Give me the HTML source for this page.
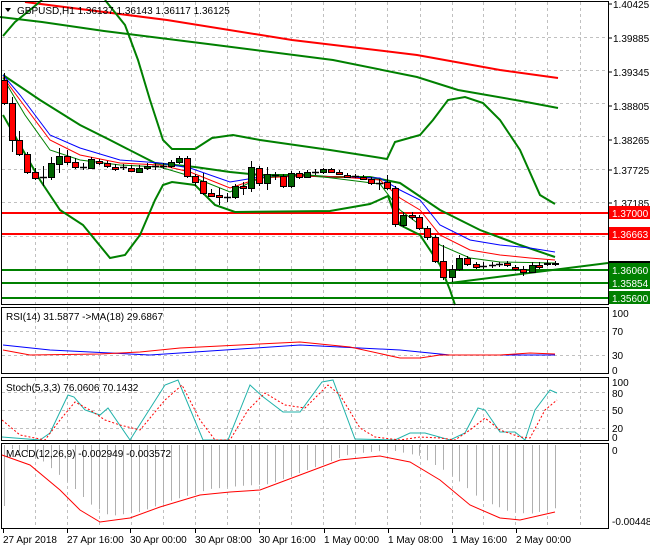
<!DOCTYPE html>
<html><head><meta charset="utf-8"><style>
html,body{margin:0;padding:0;background:#fff}
svg{display:block;font-family:"Liberation Sans",sans-serif;font-size:10px}
</style></head><body>
<svg id="s" width="650" height="550" viewBox="0 0 650 550" xmlns="http://www.w3.org/2000/svg">
<rect width="650" height="550" fill="#fff"/>
<g id="grid" stroke="#c0c0c0" stroke-dasharray="3,3" stroke-width="1"></g>
<g id="ind"></g>
<g id="cand"></g>
<g id="frame" fill="none" stroke="#000" stroke-width="1">
<rect x="1.5" y="1.5" width="607" height="303"/>
<rect x="1.5" y="307.5" width="607" height="66"/>
<rect x="1.5" y="377.5" width="607" height="63"/>
<rect x="1.5" y="443.5" width="607" height="85"/>
</g>
<g id="lab"></g>
</svg>
<script>
var NS="http://www.w3.org/2000/svg";
function el(p,t,a,txt){var e=document.createElementNS(NS,t);for(var k in a)e.setAttribute(k,a[k]);if(txt!==undefined)e.textContent=txt;document.getElementById(p).appendChild(e);return e;}
function pl(p,pts,c,w,extra){var a={points:pts.map(function(q){return q.join(',')}).join(' '),fill:'none',stroke:c,'stroke-width':w};for(var k in extra)a[k]=extra[k];el(p,'polyline',a);}
var gx=[35,67,99,131,163,195,227,259,291,323,355,387,420,452,483,515,547,580];
[[2,304],[308,373],[378,440],[444,528]].forEach(function(r){gx.forEach(function(x){el('grid','line',{x1:x+.5,y1:r[0],x2:x+.5,y2:r[1]});});});
[37,70,103,136,169,202,236,269].forEach(function(y){el('grid','line',{x1:2,y1:y+.5,x2:608,y2:y+.5});});
[331,355].forEach(function(y){el('grid','line',{x1:2,y1:y+.5,x2:608,y2:y+.5});});
[392,410,428].forEach(function(y){el('grid','line',{x1:2,y1:y+.5,x2:608,y2:y+.5});});
el('ind','line',{x1:2,y1:213,x2:608,y2:213,stroke:'#f00','stroke-width':2});
el('ind','line',{x1:2,y1:234,x2:608,y2:234,stroke:'#f00','stroke-width':2});
[270,283,298].forEach(function(y){el('ind','line',{x1:2,y1:y,x2:608,y2:y,stroke:'#008000','stroke-width':2});});
el('ind','line',{x1:450,y1:283,x2:608,y2:263,stroke:'#008000','stroke-width':2});
pl('ind',[[25,2],[167,20],[292,40],[417,55],[500,70],[558,78]],'#f00',2);
pl('ind',[[0,17],[42,22],[104,31],[208,44],[333,60],[417,77],[458,90],[521,101],[558,108]],'#008000',2);
pl('ind',[[3,36],[15,22],[30,10],[42,0]],'#008000',2);
pl('ind',[[105,0],[125,25],[138,60],[150,100],[163,140],[172,149],[195,149],[212,138],[233,135],[260,140],[330,150],[375,157],[387,159],[395,142],[420,135],[433,120],[448,100],[465,97],[483,103],[500,120],[520,150],[540,195],[555,204]],'#008000',2);
pl('ind',[[3,75],[40,100],[80,125],[110,140],[155,163],[195,167],[230,172],[260,175],[300,175],[330,177],[370,177],[400,183],[440,210],[480,230],[520,245],[555,257]],'#008000',2);
pl('ind',[[3,115],[20,145],[40,180],[60,210],[83,225],[110,258],[125,255],[140,235],[155,200],[163,185],[172,182],[195,185],[215,205],[235,212],[330,211],[370,204],[388,196],[395,215],[400,225],[420,235],[440,265],[450,290],[455,305]],'#008000',2);
pl('ind',[[3,75],[20,95],[50,135],[80,148],[120,160],[160,163],[190,168],[230,182],[260,177],[300,176],[340,177],[380,178],[400,190],[420,200],[440,225],[470,240],[500,245],[530,248],[555,252]],'#00f',1);
pl('ind',[[3,77],[20,100],[50,140],[80,155],[120,163],[160,165],[190,172],[230,188],[260,178],[300,176],[340,177],[380,180],[400,198],[420,210],[440,235],[470,250],[500,255],[530,258],[555,260]],'#f00',1);
pl('ind',[[3,78],[25,115],[50,150],[80,160],[120,165],[160,167],[190,176],[230,192],[260,178],[300,174],[380,184],[400,210],[420,225],[440,245],[470,258],[500,262],[555,263]],'#008000',1);
var C=[[4,80,103,73,105],[12,103,140,97,152],[19,140,154,131,156],[27,154,172,152,174],[35,172,178,168,180],[43,177,177,166,186],[51,177,163,157,180],[59,164,156,148,173],[67,156,162,150,165],[75,162,167,158,169],[83,167,167,163,170],[91,168,159,157,169],[99,161,163,159,165],[107,163,166,161,168],[115,167,169,164,171],[123,167,167,164,170],[131,168,171,165,172],[139,172,168,165,173],[147,168,166,163,170],[155,166,166,163,170],[163,166,166,163,169],[171,166,162,160,168],[179,162,158,156,164],[187,158,176,156,178],[195,176,182,174,186],[203,181,193,173,195],[211,193,196,189,197],[219,195,197,188,205],[227,197,197,193,202],[235,197,186,184,199],[243,186,188,182,195],[251,188,167,161,192],[259,168,183,166,186],[267,183,174,167,190],[275,175,175,172,180],[283,176,186,174,188],[291,186,173,171,188],[299,173,177,171,179],[307,177,172,170,178],[315,172,172,169,175],[323,172,169,168,174],[331,169,172,168,173],[339,172,174,170,175],[347,175,177,173,178],[355,176,176,174,178],[363,177,179,175,180],[371,179,183,177,185],[379,183,183,179,190],[387,182,188,175,190],[395,188,224,186,227],[403,225,215,212,227],[412,215,217,212,220],[419,217,228,215,230],[427,228,237,226,240],[435,237,261,235,263],[443,261,277,245,280],[452,277,269,265,282],[459,269,258,255,271],[467,258,264,256,266],[476,264,267,262,269],[483,266,266,262,269],[492,265,265,262,268],[499,264,264,262,267],[507,263,265,261,267],[515,267,269,265,271],[523,269,272,266,276],[532,272,265,262,273],[539,265,267,262,269],[547,263,264,260,266],[555,263,264,261,266]];
C.forEach(function(c){var x=c[0],o=c[1],cl=c[2];el('cand','line',{x1:x+.5,y1:c[3],x2:x+.5,y2:c[4],stroke:'#000'});
var top=Math.min(o,cl),h=Math.abs(o-cl);if(h<1){el('cand','line',{x1:x-3,y1:o+.5,x2:x+4,y2:o+.5,stroke:'#000','stroke-width':1.5});}
else el('cand','rect',{x:x-3+.5,y:top+.5,width:6,height:h,fill:(cl>o?'#f00':'#006400'),stroke:'#000'});});
pl('ind',[[3,345],[50,350],[150,355],[300,345],[400,350],[450,355],[555,355]],'#00f',1);
pl('ind',[[3,350],[30,355],[100,354],[140,352],[180,348],[240,345],[300,342],[350,347],[400,358],[420,358],[440,355],[500,355],[530,353],[555,354]],'#f00',1);
pl('ind',[[2,437],[40,440],[50,433],[68,395],[74,397],[85,410],[100,415],[108,408],[130,440],[165,385],[178,380],[203,440],[228,440],[250,385],[262,396],[283,412],[300,412],[322,382],[333,380],[355,439],[395,440],[410,433],[425,433],[450,440],[465,433],[478,408],[485,410],[500,432],[515,432],[525,440],[535,410],[550,390],[557,393]],'#20b2aa',1);
pl('ind',[[2,420],[20,435],[45,440],[60,420],[75,402],[90,410],[105,420],[120,425],[140,430],[165,400],[182,385],[200,420],[215,440],[230,440],[248,410],[265,393],[285,405],[305,408],[328,385],[340,395],[360,428],[375,437],[400,440],[420,437],[440,438],[455,440],[470,430],[485,418],[500,430],[520,437],[530,438],[545,410],[557,400]],'#f00',1,{'stroke-dasharray':'2,2'});
var sig=[[2,455],[30,465],[60,490],[80,510],[100,522],[130,518],[160,507],[200,495],[230,492],[260,490],[300,475],[340,460],[380,456],[410,462],[440,480],[470,505],[500,518],[520,520],[555,512]];
function interp(x){for(var i=0;i<sig.length-1;i++){if(x>=sig[i][0]&&x<=sig[i+1][0]){var t=(x-sig[i][0])/(sig[i+1][0]-sig[i][0]);return sig[i][1]+t*(sig[i+1][1]-sig[i][1]);}}return sig[sig.length-1][1];}
C.forEach(function(c,i){var x=c[0];var d=interp(x-10)-6;if(d<448)d=448;el('ind','line',{x1:x+.5,y1:445,x2:x+.5,y2:d,stroke:'#b0b0b0'});});
pl('ind',sig,'#f00',1);
el('lab','path',{d:'M5 8 L11 8 L8 12 Z',fill:'#000'});
el('lab','text',{x:17,y:14,fill:'#000'},'GBPUSD,H1  1.36137 1.36143 1.36117 1.36125');
el('lab','text',{x:6,y:320,fill:'#000'},'RSI(14) 31.5877  ->MA(18) 29.6867');
el('lab','text',{x:6,y:391,fill:'#000'},'Stoch(5,3,3) 76.0606 70.1432');
el('lab','text',{x:6,y:457,fill:'#000'},'MACD(12,26,9) -0.002949 -0.003572');
[['1.40425',4],['1.39885',38],['1.39345',72],['1.38805',106],['1.38265',140],['1.37725',170],['1.37185',203]].forEach(function(p){el('lab','line',{x1:608,y1:p[1],x2:612,y2:p[1],stroke:'#000'});el('lab','text',{x:613,y:p[1]+4,fill:'#000'},p[0]);});
el('lab','rect',{x:609,y:261,width:41,height:5,fill:'#000'});
[['1.37000',213,'#f00'],['1.36663',234,'#f00'],['1.36060',270,'#008000'],['1.35854',283,'#008000'],['1.35600',298,'#008000']].forEach(function(p){el('lab','rect',{x:609,y:p[1]-7,width:41,height:13,fill:p[2]});el('lab','text',{x:612,y:p[1]+4,fill:'#fff'},p[0]);});
[['100',313],['70',331],['30',355],['0',370]].forEach(function(p){el('lab','text',{x:612,y:p[1]+4,fill:'#000'},p[0]);});
[['100',382],['80',393],['50',410],['20',428],['0',437]].forEach(function(p){el('lab','text',{x:612,y:p[1]+4,fill:'#000'},p[0]);});
el('lab','text',{x:612,y:454,fill:'#000'},'0');
el('lab','text',{x:612,y:525,fill:'#000'},'-0.004482');
[['27 Apr 2018',3],['27 Apr 16:00',67],['30 Apr 00:00',130],['30 Apr 08:00',195],['30 Apr 16:00',259],['1 May 00:00',324],['1 May 08:00',388],['1 May 16:00',452],['2 May 00:00',516]].forEach(function(p,i){el('lab','line',{x1:p[1]+0.5,y1:529,x2:p[1]+0.5,y2:533,stroke:'#000'});el('lab','text',{x:p[1],y:543,fill:'#000'},p[0]);});
</script>
</body></html>
